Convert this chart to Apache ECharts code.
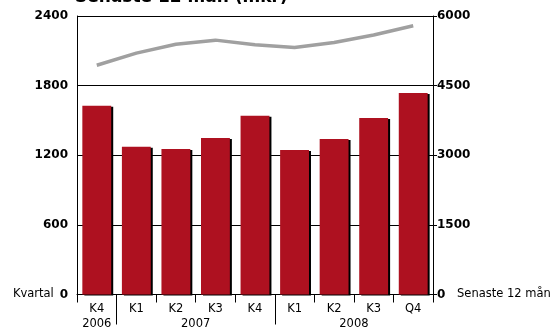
<!DOCTYPE html>
<html>
<head>
<meta charset="utf-8">
<script src="https://cdn.jsdelivr.net/npm/echarts@6/dist/echarts.min.js"></script>
<style>
  html, body { margin: 0; padding: 0; background: #fff; }
  #chart { width: 555px; height: 331px; }
</style>
</head>
<body>
<div id="chart"></div>
<script>
// Quarterly sales (mkr, left axis) and rolling 12-month total (right axis)
const quarters = ['K4', 'K1', 'K2', 'K3', 'K4', 'K1', 'K2', 'K3', 'Q4'];
const years = ['2006', '2007', '2008'];
const yearCenters = [0.5, 3, 7];      // middle of each year's run of quarters
const yearBreaks = [1, 5];            // boundaries between years
const quarterSales = [1627, 1274, 1254, 1349, 1541, 1246, 1341, 1522, 1737];
const rolling12m = [4940, 5200, 5390, 5480, 5380, 5320, 5430, 5590, 5790];
const leftMax = 2400, leftStep = 600;
const rightMax = 6000, rightStep = 1500;

const FONT = 'DejaVu Sans';
const TXT = 11.5;
const NUM = 12;
const plain = v => String(v);
const chart = echarts.init(document.getElementById('chart'));

chart.setOption({
  animation: false,
  backgroundColor: '#fff',
  textStyle: { fontFamily: FONT, color: '#000' },
  graphic: [{
    type: 'text',
    left: 75,
    top: -11,
    style: {
      text: 'Senaste 12 mån (mkr)',
      font: 'bold 17px "DejaVu Sans"',
      fill: '#000'
    }
  }],
  grid: { left: 77, right: 122, top: 16, bottom: 36.5, containLabel: false },
  xAxis: [{
    type: 'category',
    data: quarters,
    name: 'Kvartal',
    nameLocation: 'start',
    nameGap: 18,
    nameTextStyle: { fontFamily: FONT, fontSize: TXT, color: '#000' },
    axisLine: { lineStyle: { color: '#000', width: 1 } },
    axisTick: { show: true, interval: 0, length: 8, lineStyle: { color: '#000' } },
    axisLabel: { interval: 0, margin: 9, fontFamily: FONT, fontSize: TXT, color: '#000' },
    splitLine: { show: false }
  }, {
    type: 'value',
    position: 'bottom',
    min: 0,
    max: quarters.length,
    name: 'Senaste 12 mån',
    nameLocation: 'end',
    nameGap: 24,
    nameTextStyle: { fontFamily: FONT, fontSize: TXT, color: '#000', verticalAlign: 'middle' },
    axisLine: { show: false },
    axisTick: { show: true, customValues: yearBreaks, length: 30, lineStyle: { color: '#000' } },
    axisLabel: {
      customValues: yearCenters,
      margin: 24,
      fontFamily: FONT, fontSize: TXT, color: '#000',
      formatter: v => years[yearCenters.indexOf(v)] || ''
    },
    splitLine: { show: false }
  }],
  yAxis: [{
    type: 'value',
    min: 0, max: leftMax, interval: leftStep,
    axisLine: { show: true, lineStyle: { color: '#000' } },
    axisTick: { show: false },
    axisLabel: { margin: 9, fontFamily: FONT, fontSize: NUM, fontWeight: 'bold', color: '#000', formatter: plain },
    splitLine: { show: true, lineStyle: { color: '#000', width: 1 } }
  }, {
    type: 'value',
    min: 0, max: rightMax, interval: rightStep,
    position: 'right',
    axisLine: { show: true, lineStyle: { color: '#000' } },
    axisTick: { show: true, length: 4, lineStyle: { color: '#000' } },
    axisLabel: { margin: 4, fontFamily: FONT, fontSize: NUM, fontWeight: 'bold', color: '#000', formatter: plain },
    splitLine: { show: false }
  }],
  series: [{
    type: 'bar',
    data: quarterSales,
    xAxisIndex: 0,
    yAxisIndex: 0,
    barWidth: '73%',
    itemStyle: {
      color: '#ae1120',
      shadowColor: '#000',
      shadowBlur: 0,
      shadowOffsetX: 2,
      shadowOffsetY: 1
    },
    z: 2
  }, {
    type: 'line',
    data: rolling12m,
    xAxisIndex: 0,
    yAxisIndex: 1,
    symbol: 'none',
    lineStyle: { color: '#a0a0a0', width: 3.5 },
    z: 3
  }]
});
</script>
</body>
</html>
